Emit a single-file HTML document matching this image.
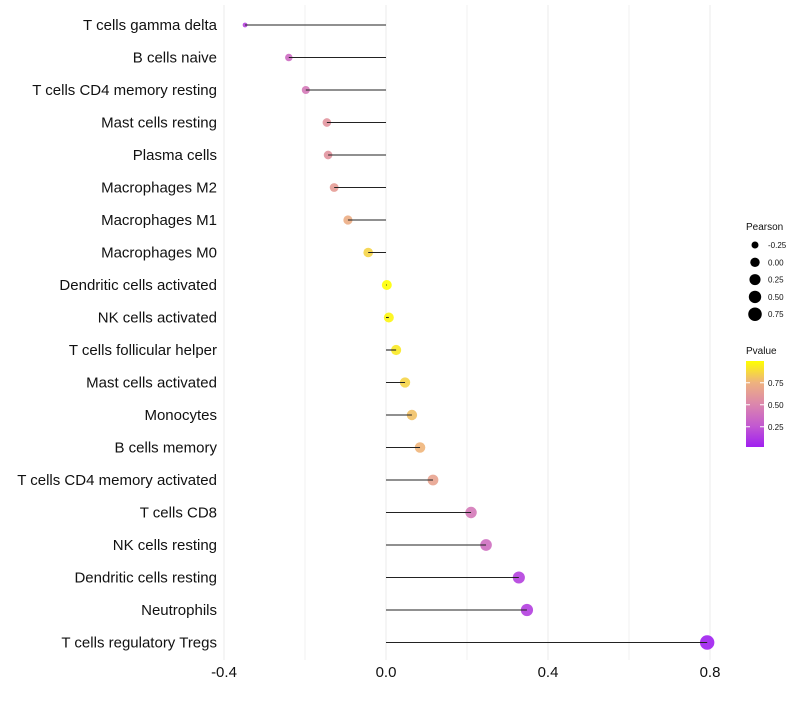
<!DOCTYPE html>
<html><head><meta charset="utf-8"><style>
body{margin:0;background:#fff;font-family:"Liberation Sans",sans-serif;}
</style></head><body>
<svg id="chart" width="800" height="700" xmlns="http://www.w3.org/2000/svg"></svg>
<script>
const categories=["T cells gamma delta","B cells naive","T cells CD4 memory resting","Mast cells resting","Plasma cells","Macrophages M2","Macrophages M1","Macrophages M0","Dendritic cells activated","NK cells activated","T cells follicular helper","Mast cells activated","Monocytes","B cells memory","T cells CD4 memory activated","T cells CD8","NK cells resting","Dendritic cells resting","Neutrophils","T cells regulatory  Tregs"];
const pearson=[-0.348,-0.24,-0.198,-0.146,-0.143,-0.128,-0.094,-0.044,0.002,0.007,0.025,0.047,0.064,0.084,0.116,0.21,0.247,0.328,0.348,0.793];
const pvalue=[0.15,0.35,0.42,0.58,0.57,0.62,0.72,0.86,1.0,0.97,0.93,0.86,0.8,0.76,0.66,0.42,0.36,0.14,0.13,0.0];
const xTicks=[-0.4,0.0,0.4,0.8];
const xTickLabels=["-0.4","0.0","0.4","0.8"];
const minorTicks=[-0.2,0.2,0.6];
const sizeLegend=[-0.25,0.0,0.25,0.5,0.75];
const sizeLegendLabels=["-0.25","0.00","0.25","0.50","0.75"];
const colorLegend=[0.25,0.5,0.75];
const colorLegendLabels=["0.25","0.50","0.75"];

const svg=document.getElementById('chart');
const NS="http://www.w3.org/2000/svg";
const x=v=>386+v*405;
const y=i=>25+i*32.5;
const r=v=>2.2+5*Math.sqrt(Math.max(0,(v+0.35)/1.14));
const stops=[[0,[160,32,240]],[0.25,[195,90,208]],[0.5,[220,135,172]],[0.75,[238,178,127]],[1,[255,255,0]]];
function col(p){for(let k=1;k<stops.length;k++){if(p<=stops[k][0]){const a=stops[k-1],b=stops[k];const t=(p-a[0])/(b[0]-a[0]);return 'rgb('+a[1].map((c,j)=>Math.round(c+(b[1][j]-c)*t)).join(',')+')';}}return 'rgb(255,255,0)';}
function el(t,a,p){const e=document.createElementNS(NS,t);for(const k in a)e.setAttribute(k,a[k]);(p||svg).appendChild(e);return e;}

minorTicks.forEach(v=>{const l=el('line',{x1:x(v),x2:x(v),y1:5,y2:660,stroke:'#f2f2f2','stroke-width':1});

});
xTicks.forEach((v,i)=>{const l=el('line',{x1:x(v),x2:x(v),y1:5,y2:660,stroke:'#ebebeb','stroke-width':1});


const t=el('text',{x:x(v),y:677,'text-anchor':'middle','font-size':15,fill:'#111'});t.textContent=xTickLabels[i];

});

categories.forEach((c,i)=>{
const t=el('text',{x:217,y:y(i)+5,'text-anchor':'end','font-size':15,fill:'#111'});t.textContent=c;


const pt=el('circle',{cx:x(pearson[i]),cy:y(i),r:r(pearson[i]),fill:col(pvalue[i]),'fill-opacity':0.9});


const ln=el('line',{x1:x(0),x2:x(pearson[i]),y1:y(i),y2:y(i),stroke:'#222','stroke-width':1.1});


});

const lt=el('text',{x:746,y:230,'font-size':10,fill:'#111'});lt.textContent='Pearson';


sizeLegend.forEach((v,i)=>{const cy=245+i*17.3;
const c=el('circle',{cx:755,cy:cy,r:r(v)*0.95,fill:'#000'});


const t=el('text',{x:768,y:cy+3,'font-size':8,fill:'#111'});t.textContent=sizeLegendLabels[i];

});

const ct=el('text',{x:746,y:354,'font-size':10,fill:'#111'});ct.textContent='Pvalue';


const defs=el('defs',{});const g=el('linearGradient',{id:'pg',x1:0,y1:1,x2:0,y2:0},defs);
stops.forEach(s=>el('stop',{offset:s[0],'stop-color':'rgb('+s[1].join(',')+')'},g));
const bar=el('rect',{x:746,y:361,width:18,height:86,fill:'url(#pg)'});


const cy0=447,cs=88;
colorLegend.forEach((v,i)=>{const yy=cy0-(v-0.02)*cs;
el('line',{x1:746,x2:750,y1:yy,y2:yy,stroke:'#fff'});el('line',{x1:760,x2:764,y1:yy,y2:yy,stroke:'#fff'});
const t=el('text',{x:768,y:yy+3,'font-size':8,fill:'#111'});t.textContent=colorLegendLabels[i];

});
</script>
</body></html>
